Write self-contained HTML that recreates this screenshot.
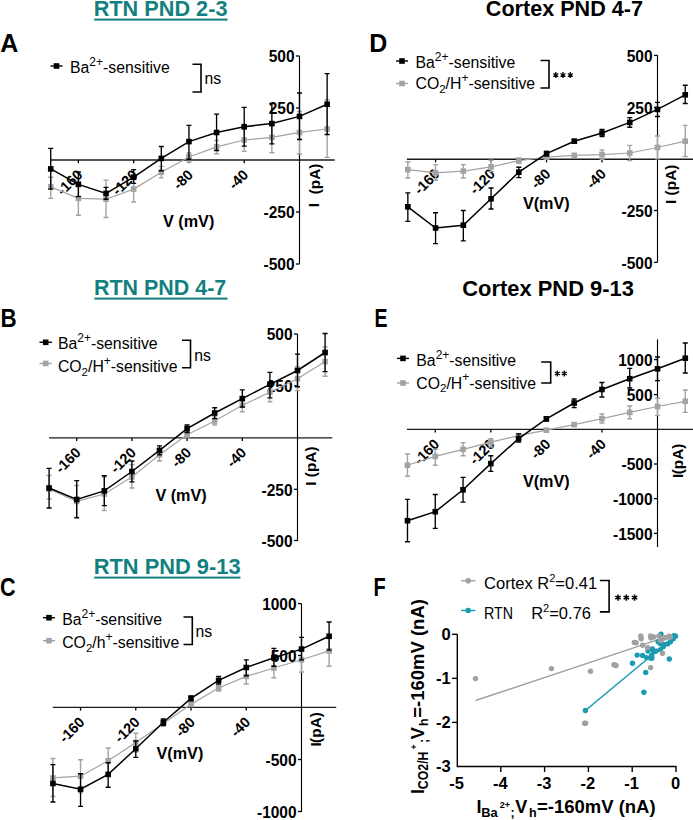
<!DOCTYPE html>
<html><head><meta charset="utf-8"><style>
html,body{margin:0;padding:0;background:#fff;}
svg{display:block;font-family:"Liberation Sans", sans-serif;}
</style></head><body>
<svg width="693" height="820" viewBox="0 0 693 820">
<rect width="693" height="820" fill="#fff"/>
<text x="93.7" y="16.3" font-size="21.3" font-weight="bold" text-anchor="start" fill="#127f80" textLength="133.8" lengthAdjust="spacingAndGlyphs">RTN PND 2-3</text>
<rect x="94.2" y="18.6" width="133.3" height="2" fill="#127f80"/>
<text x="0.3" y="51.5" font-size="25" font-weight="bold" text-anchor="start" fill="#000" >A</text>
<path d="M50.5,66H62.5" stroke="#000" stroke-width="1.4"/>
<rect x="53.70" y="63.20" width="5.6" height="5.6" fill="#000"/>
<text x="70" y="73.3" font-size="15.8">Ba<tspan font-size="12" dy="-7.3">2+</tspan><tspan dy="7.3">-sensitive</tspan></text>
<path d="M192.5,64.2H201V92H192.5" stroke="#000" stroke-width="1.6" fill="none"/>
<text x="204.5" y="83.5" font-size="15.8" text-anchor="start" fill="#000" >ns</text>
<path d="M51,160H334.7" stroke="#1a1a1a" stroke-width="1.4" fill="none"/>
<path d="M299.5,56V264" stroke="#000" stroke-width="1.15" fill="none"/>
<path d="M296.0,56H299.5" stroke="#000" stroke-width="1.3"/>
<path d="M296.0,108H299.5" stroke="#000" stroke-width="1.3"/>
<path d="M296.0,212H299.5" stroke="#000" stroke-width="1.3"/>
<path d="M296.0,264H299.5" stroke="#000" stroke-width="1.3"/>
<path d="M78.38,160V163.20" stroke="#000" stroke-width="1.3"/>
<path d="M133.66,160V163.20" stroke="#000" stroke-width="1.3"/>
<path d="M188.94,160V163.20" stroke="#000" stroke-width="1.3"/>
<path d="M244.22,160V163.20" stroke="#000" stroke-width="1.3"/>
<text x="268.75" y="62.4" font-size="16.3" font-weight="bold" textLength="25.85" lengthAdjust="spacingAndGlyphs">500</text>
<text x="268.75" y="114.4" font-size="16.3" font-weight="bold" textLength="25.85" lengthAdjust="spacingAndGlyphs">250</text>
<text x="263.58" y="218.4" font-size="16.3" font-weight="bold" textLength="31.02" lengthAdjust="spacingAndGlyphs">-250</text>
<text x="263.58" y="270.4" font-size="16.3" font-weight="bold" textLength="31.02" lengthAdjust="spacingAndGlyphs">-500</text>
<text x="83.38" y="175.7" font-size="14.5" font-weight="bold" text-anchor="end" transform="rotate(-45 83.38 175.7)">-160</text>
<text x="138.66" y="175.7" font-size="14.5" font-weight="bold" text-anchor="end" transform="rotate(-45 138.66 175.7)">-120</text>
<text x="193.94" y="175.7" font-size="14.5" font-weight="bold" text-anchor="end" transform="rotate(-45 193.94 175.7)">-80</text>
<text x="249.22" y="175.7" font-size="14.5" font-weight="bold" text-anchor="end" transform="rotate(-45 249.22 175.7)">-40</text>
<text x="163" y="226.8" font-size="16.2" font-weight="bold" text-anchor="start" fill="#000" >V (mV)</text>
<text x="319.5" y="207.2" font-size="15.4" font-weight="bold" transform="rotate(-90 319.5 207.2)">I</text>
<text x="319.5" y="163.5" font-size="15.4" font-weight="bold" text-anchor="end" transform="rotate(-90 319.5 163.5)">(pA)</text>
<path d="M50.74,177.20V198.40M48.24,177.20H53.24M48.24,198.40H53.24" stroke="#a3a3a3" stroke-width="1.4" fill="none"/>
<path d="M78.38,181.50V215.30M75.88,181.50H80.88M75.88,215.30H80.88" stroke="#a3a3a3" stroke-width="1.4" fill="none"/>
<path d="M106.02,180.10V217.50M103.52,180.10H108.52M103.52,217.50H108.52" stroke="#a3a3a3" stroke-width="1.4" fill="none"/>
<path d="M133.66,176.50V202.00M131.16,176.50H136.16M131.16,202.00H136.16" stroke="#a3a3a3" stroke-width="1.4" fill="none"/>
<path d="M161.30,166.40V177.90M158.80,166.40H163.80M158.80,177.90H163.80" stroke="#a3a3a3" stroke-width="1.4" fill="none"/>
<path d="M188.94,153.00V162.00M186.44,153.00H191.44M186.44,162.00H191.44" stroke="#a3a3a3" stroke-width="1.4" fill="none"/>
<path d="M216.58,140.40V153.70M214.08,140.40H219.08M214.08,153.70H219.08" stroke="#a3a3a3" stroke-width="1.4" fill="none"/>
<path d="M244.22,129.00V151.40M241.72,129.00H246.72M241.72,151.40H246.72" stroke="#a3a3a3" stroke-width="1.4" fill="none"/>
<path d="M271.86,122.00V152.70M269.36,122.00H274.36M269.36,152.70H274.36" stroke="#a3a3a3" stroke-width="1.4" fill="none"/>
<path d="M299.50,111.50V154.00M297.00,111.50H302.00M297.00,154.00H302.00" stroke="#a3a3a3" stroke-width="1.4" fill="none"/>
<path d="M327.14,99.70V157.40M324.64,99.70H329.64M324.64,157.40H329.64" stroke="#a3a3a3" stroke-width="1.4" fill="none"/>
<path d="M50.74,186.90 L78.38,198.40 L106.02,199.20 L133.66,189.10 L161.30,172.20 L188.94,157.00 L216.58,146.90 L244.22,140.00 L271.86,137.30 L299.50,132.40 L327.14,129.00" stroke="#a3a3a3" stroke-width="1.2" fill="none"/>
<rect x="47.94" y="184.10" width="5.6" height="5.6" fill="#a3a3a3"/>
<rect x="75.58" y="195.60" width="5.6" height="5.6" fill="#a3a3a3"/>
<rect x="103.22" y="196.40" width="5.6" height="5.6" fill="#a3a3a3"/>
<rect x="130.86" y="186.30" width="5.6" height="5.6" fill="#a3a3a3"/>
<rect x="158.50" y="169.40" width="5.6" height="5.6" fill="#a3a3a3"/>
<rect x="186.14" y="154.20" width="5.6" height="5.6" fill="#a3a3a3"/>
<rect x="213.78" y="144.10" width="5.6" height="5.6" fill="#a3a3a3"/>
<rect x="241.42" y="137.20" width="5.6" height="5.6" fill="#a3a3a3"/>
<rect x="269.06" y="134.50" width="5.6" height="5.6" fill="#a3a3a3"/>
<rect x="296.70" y="129.60" width="5.6" height="5.6" fill="#a3a3a3"/>
<rect x="324.34" y="126.20" width="5.6" height="5.6" fill="#a3a3a3"/>
<path d="M50.74,148.40V189.10M48.24,148.40H53.24M48.24,189.10H53.24" stroke="#000" stroke-width="1.35" fill="none"/>
<path d="M78.38,172.00V196.60M75.88,172.00H80.88M75.88,196.60H80.88" stroke="#000" stroke-width="1.35" fill="none"/>
<path d="M106.02,187.30V199.20M103.52,187.30H108.52M103.52,199.20H108.52" stroke="#000" stroke-width="1.35" fill="none"/>
<path d="M133.66,169.60V183.30M131.16,169.60H136.16M131.16,183.30H136.16" stroke="#000" stroke-width="1.35" fill="none"/>
<path d="M161.30,146.50V170.70M158.80,146.50H163.80M158.80,170.70H163.80" stroke="#000" stroke-width="1.35" fill="none"/>
<path d="M188.94,125.30V159.20M186.44,125.30H191.44M186.44,159.20H191.44" stroke="#000" stroke-width="1.35" fill="none"/>
<path d="M216.58,114.10V150.50M214.08,114.10H219.08M214.08,150.50H219.08" stroke="#000" stroke-width="1.35" fill="none"/>
<path d="M244.22,107.30V146.10M241.72,107.30H246.72M241.72,146.10H246.72" stroke="#000" stroke-width="1.35" fill="none"/>
<path d="M271.86,103.50V143.80M269.36,103.50H274.36M269.36,143.80H274.36" stroke="#000" stroke-width="1.35" fill="none"/>
<path d="M299.50,93.00V139.50M297.00,93.00H302.00M297.00,139.50H302.00" stroke="#000" stroke-width="1.35" fill="none"/>
<path d="M327.14,73.60V134.50M324.64,73.60H329.64M324.64,134.50H329.64" stroke="#000" stroke-width="1.35" fill="none"/>
<path d="M50.74,168.90 L78.38,184.40 L106.02,193.40 L133.66,177.20 L161.30,158.40 L188.94,141.60 L216.58,132.50 L244.22,126.70 L271.86,123.60 L299.50,116.40 L327.14,104.20" stroke="#000" stroke-width="1.5" fill="none"/>
<rect x="47.94" y="166.10" width="5.6" height="5.6" fill="#000"/>
<rect x="75.58" y="181.60" width="5.6" height="5.6" fill="#000"/>
<rect x="103.22" y="190.60" width="5.6" height="5.6" fill="#000"/>
<rect x="130.86" y="174.40" width="5.6" height="5.6" fill="#000"/>
<rect x="158.50" y="155.60" width="5.6" height="5.6" fill="#000"/>
<rect x="186.14" y="138.80" width="5.6" height="5.6" fill="#000"/>
<rect x="213.78" y="129.70" width="5.6" height="5.6" fill="#000"/>
<rect x="241.42" y="123.90" width="5.6" height="5.6" fill="#000"/>
<rect x="269.06" y="120.80" width="5.6" height="5.6" fill="#000"/>
<rect x="296.70" y="113.60" width="5.6" height="5.6" fill="#000"/>
<rect x="324.34" y="101.40" width="5.6" height="5.6" fill="#000"/>
<text x="93.9" y="295.4" font-size="21.3" font-weight="bold" text-anchor="start" fill="#127f80" textLength="132.4" lengthAdjust="spacingAndGlyphs">RTN PND 4-7</text>
<rect x="94.4" y="297.6" width="133.1" height="2" fill="#127f80"/>
<text x="0.4" y="326.5" font-size="25" font-weight="bold" text-anchor="start" fill="#000" textLength="16.2" lengthAdjust="spacingAndGlyphs">B</text>
<path d="M39.5,342.3H51.9" stroke="#000" stroke-width="1.4"/>
<rect x="42.90" y="339.50" width="5.6" height="5.6" fill="#000"/>
<text x="57.9" y="349.2" font-size="15.8">Ba<tspan font-size="12" dy="-7.3">2+</tspan><tspan dy="7.3">-sensitive</tspan></text>
<path d="M39.5,363.5H51.9" stroke="#a3a3a3" stroke-width="1.4"/>
<rect x="42.90" y="360.70" width="5.6" height="5.6" fill="#a3a3a3"/>
<text x="57.9" y="372.2" font-size="15.8">CO<tspan font-size="11.5" dy="3.5">2</tspan><tspan dy="-3.5">/H</tspan><tspan font-size="12" dy="-7.3">+</tspan><tspan dy="7.3">-sensitive</tspan></text>
<path d="M182,340.2H190.5V367.8H182" stroke="#000" stroke-width="1.6" fill="none"/>
<text x="194.3" y="360.5" font-size="15.8" text-anchor="start" fill="#000" >ns</text>
<path d="M49,437.9H332.3" stroke="#1a1a1a" stroke-width="1.4" fill="none"/>
<path d="M297.5,334V541" stroke="#000" stroke-width="1.15" fill="none"/>
<path d="M294.0,334H297.5" stroke="#000" stroke-width="1.3"/>
<path d="M294.0,385.9H297.5" stroke="#000" stroke-width="1.3"/>
<path d="M294.0,489.3H297.5" stroke="#000" stroke-width="1.3"/>
<path d="M294.0,540.5H297.5" stroke="#000" stroke-width="1.3"/>
<path d="M76.70,437.9V441.10" stroke="#000" stroke-width="1.3"/>
<path d="M131.90,437.9V441.10" stroke="#000" stroke-width="1.3"/>
<path d="M187.10,437.9V441.10" stroke="#000" stroke-width="1.3"/>
<path d="M242.30,437.9V441.10" stroke="#000" stroke-width="1.3"/>
<text x="266.75" y="340.4" font-size="16.3" font-weight="bold" textLength="25.85" lengthAdjust="spacingAndGlyphs">500</text>
<text x="266.75" y="392.29" font-size="16.3" font-weight="bold" textLength="25.85" lengthAdjust="spacingAndGlyphs">250</text>
<text x="261.58" y="495.7" font-size="16.3" font-weight="bold" textLength="31.02" lengthAdjust="spacingAndGlyphs">-250</text>
<text x="261.58" y="546.9" font-size="16.3" font-weight="bold" textLength="31.02" lengthAdjust="spacingAndGlyphs">-500</text>
<text x="81.7" y="453.6" font-size="14.5" font-weight="bold" text-anchor="end" transform="rotate(-45 81.7 453.6)">-160</text>
<text x="136.9" y="453.6" font-size="14.5" font-weight="bold" text-anchor="end" transform="rotate(-45 136.9 453.6)">-120</text>
<text x="192.1" y="453.6" font-size="14.5" font-weight="bold" text-anchor="end" transform="rotate(-45 192.1 453.6)">-80</text>
<text x="247.3" y="453.6" font-size="14.5" font-weight="bold" text-anchor="end" transform="rotate(-45 247.3 453.6)">-40</text>
<text x="155.4" y="501.2" font-size="16.2" font-weight="bold" text-anchor="start" fill="#000" >V (mV)</text>
<text x="315.9" y="485.8" font-size="15.4" font-weight="bold" transform="rotate(-90 315.9 485.8)">I</text>
<text x="315.9" y="446.4" font-size="15.4" font-weight="bold" text-anchor="end" transform="rotate(-90 315.9 446.4)">(pA)</text>
<path d="M49.10,475.50V499.00M46.60,475.50H51.60M46.60,499.00H51.60" stroke="#a3a3a3" stroke-width="1.4" fill="none"/>
<path d="M76.70,485.50V517.40M74.20,485.50H79.20M74.20,517.40H79.20" stroke="#a3a3a3" stroke-width="1.4" fill="none"/>
<path d="M104.30,477.00V510.50M101.80,477.00H106.80M101.80,510.50H106.80" stroke="#a3a3a3" stroke-width="1.4" fill="none"/>
<path d="M131.90,464.60V488.00M129.40,464.60H134.40M129.40,488.00H134.40" stroke="#a3a3a3" stroke-width="1.4" fill="none"/>
<path d="M159.50,450.00V461.00M157.00,450.00H162.00M157.00,461.00H162.00" stroke="#a3a3a3" stroke-width="1.4" fill="none"/>
<path d="M187.10,432.00V437.50M184.60,432.00H189.60M184.60,437.50H189.60" stroke="#a3a3a3" stroke-width="1.4" fill="none"/>
<path d="M214.70,417.00V425.00M212.20,417.00H217.20M212.20,425.00H217.20" stroke="#a3a3a3" stroke-width="1.4" fill="none"/>
<path d="M242.30,400.00V411.70M239.80,400.00H244.80M239.80,411.70H244.80" stroke="#a3a3a3" stroke-width="1.4" fill="none"/>
<path d="M269.90,385.00V401.70M267.40,385.00H272.40M267.40,401.70H272.40" stroke="#a3a3a3" stroke-width="1.4" fill="none"/>
<path d="M297.50,366.80V390.60M295.00,366.80H300.00M295.00,390.60H300.00" stroke="#a3a3a3" stroke-width="1.4" fill="none"/>
<path d="M325.10,347.00V376.30M322.60,347.00H327.60M322.60,376.30H327.60" stroke="#a3a3a3" stroke-width="1.4" fill="none"/>
<path d="M49.10,489.00 L76.70,501.40 L104.30,494.00 L131.90,477.00 L159.50,454.80 L187.10,434.70 L214.70,421.00 L242.30,405.30 L269.90,392.20 L297.50,378.70 L325.10,361.60" stroke="#a3a3a3" stroke-width="1.2" fill="none"/>
<rect x="46.30" y="486.20" width="5.6" height="5.6" fill="#a3a3a3"/>
<rect x="73.90" y="498.60" width="5.6" height="5.6" fill="#a3a3a3"/>
<rect x="101.50" y="491.20" width="5.6" height="5.6" fill="#a3a3a3"/>
<rect x="129.10" y="474.20" width="5.6" height="5.6" fill="#a3a3a3"/>
<rect x="156.70" y="452.00" width="5.6" height="5.6" fill="#a3a3a3"/>
<rect x="184.30" y="431.90" width="5.6" height="5.6" fill="#a3a3a3"/>
<rect x="211.90" y="418.20" width="5.6" height="5.6" fill="#a3a3a3"/>
<rect x="239.50" y="402.50" width="5.6" height="5.6" fill="#a3a3a3"/>
<rect x="267.10" y="389.40" width="5.6" height="5.6" fill="#a3a3a3"/>
<rect x="294.70" y="375.90" width="5.6" height="5.6" fill="#a3a3a3"/>
<rect x="322.30" y="358.80" width="5.6" height="5.6" fill="#a3a3a3"/>
<path d="M49.10,468.30V508.00M46.60,468.30H51.60M46.60,508.00H51.60" stroke="#000" stroke-width="1.35" fill="none"/>
<path d="M76.70,480.60V517.90M74.20,480.60H79.20M74.20,517.90H79.20" stroke="#000" stroke-width="1.35" fill="none"/>
<path d="M104.30,475.70V505.60M101.80,475.70H106.80M101.80,505.60H106.80" stroke="#000" stroke-width="1.35" fill="none"/>
<path d="M131.90,461.00V481.80M129.40,461.00H134.40M129.40,481.80H134.40" stroke="#000" stroke-width="1.35" fill="none"/>
<path d="M159.50,445.80V454.80M157.00,445.80H162.00M157.00,454.80H162.00" stroke="#000" stroke-width="1.35" fill="none"/>
<path d="M187.10,425.00V432.50M184.60,425.00H189.60M184.60,432.50H189.60" stroke="#000" stroke-width="1.35" fill="none"/>
<path d="M214.70,407.70V418.60M212.20,407.70H217.20M212.20,418.60H217.20" stroke="#000" stroke-width="1.35" fill="none"/>
<path d="M242.30,389.80V407.00M239.80,389.80H244.80M239.80,407.00H244.80" stroke="#000" stroke-width="1.35" fill="none"/>
<path d="M269.90,372.40V397.80M267.40,372.40H272.40M267.40,397.80H272.40" stroke="#000" stroke-width="1.35" fill="none"/>
<path d="M297.50,354.10V386.70M295.00,354.10H300.00M295.00,386.70H300.00" stroke="#000" stroke-width="1.35" fill="none"/>
<path d="M325.10,333.50V371.60M322.60,333.50H327.60M322.60,371.60H327.60" stroke="#000" stroke-width="1.35" fill="none"/>
<path d="M49.10,488.00 L76.70,499.50 L104.30,490.90 L131.90,471.50 L159.50,450.40 L187.10,428.70 L214.70,413.00 L242.30,398.60 L269.90,384.30 L297.50,370.50 L325.10,352.50" stroke="#000" stroke-width="1.5" fill="none"/>
<rect x="46.30" y="485.20" width="5.6" height="5.6" fill="#000"/>
<rect x="73.90" y="496.70" width="5.6" height="5.6" fill="#000"/>
<rect x="101.50" y="488.10" width="5.6" height="5.6" fill="#000"/>
<rect x="129.10" y="468.70" width="5.6" height="5.6" fill="#000"/>
<rect x="156.70" y="447.60" width="5.6" height="5.6" fill="#000"/>
<rect x="184.30" y="425.90" width="5.6" height="5.6" fill="#000"/>
<rect x="211.90" y="410.20" width="5.6" height="5.6" fill="#000"/>
<rect x="239.50" y="395.80" width="5.6" height="5.6" fill="#000"/>
<rect x="267.10" y="381.50" width="5.6" height="5.6" fill="#000"/>
<rect x="294.70" y="367.70" width="5.6" height="5.6" fill="#000"/>
<rect x="322.30" y="349.70" width="5.6" height="5.6" fill="#000"/>
<text x="93.7" y="573.9" font-size="21.3" font-weight="bold" text-anchor="start" fill="#127f80" textLength="146.9" lengthAdjust="spacingAndGlyphs">RTN PND 9-13</text>
<rect x="94.2" y="576.6" width="146.3" height="2" fill="#127f80"/>
<text x="0" y="595.5" font-size="25" font-weight="bold" text-anchor="start" fill="#000" textLength="15.6" lengthAdjust="spacingAndGlyphs">C</text>
<path d="M43,617.7H55" stroke="#000" stroke-width="1.4"/>
<rect x="46.20" y="614.90" width="5.6" height="5.6" fill="#000"/>
<text x="62.2" y="625.4" font-size="15.8">Ba<tspan font-size="12" dy="-7.3">2+</tspan><tspan dy="7.3">-sensitive</tspan></text>
<path d="M43,640.7H55" stroke="#a3a3a3" stroke-width="1.4"/>
<rect x="46.20" y="637.90" width="5.6" height="5.6" fill="#a3a3a3"/>
<text x="62.2" y="648.4" font-size="15.8">CO<tspan font-size="11.5" dy="3.5">2</tspan><tspan dy="-3.5">/h</tspan><tspan font-size="12" dy="-7.3">+</tspan><tspan dy="7.3">-sensitive</tspan></text>
<path d="M183.5,617H192.3V644.5H183.5" stroke="#000" stroke-width="1.6" fill="none"/>
<text x="195.5" y="636.5" font-size="15.8" text-anchor="start" fill="#000" >ns</text>
<path d="M52.8,707.4H336.2" stroke="#1a1a1a" stroke-width="1.4" fill="none"/>
<path d="M301.5,603.6V811.8" stroke="#000" stroke-width="1.15" fill="none"/>
<path d="M298.0,603.6H301.5" stroke="#000" stroke-width="1.3"/>
<path d="M298.0,655.5H301.5" stroke="#000" stroke-width="1.3"/>
<path d="M298.0,759.5H301.5" stroke="#000" stroke-width="1.3"/>
<path d="M298.0,811.5H301.5" stroke="#000" stroke-width="1.3"/>
<path d="M80.54,707.4V710.60" stroke="#000" stroke-width="1.3"/>
<path d="M135.78,707.4V710.60" stroke="#000" stroke-width="1.3"/>
<path d="M191.02,707.4V710.60" stroke="#000" stroke-width="1.3"/>
<path d="M246.26,707.4V710.60" stroke="#000" stroke-width="1.3"/>
<text x="262.13" y="610.0" font-size="16.3" font-weight="bold" textLength="34.47" lengthAdjust="spacingAndGlyphs">1000</text>
<text x="270.75" y="661.9" font-size="16.3" font-weight="bold" textLength="25.85" lengthAdjust="spacingAndGlyphs">500</text>
<text x="265.58" y="765.9" font-size="16.3" font-weight="bold" textLength="31.02" lengthAdjust="spacingAndGlyphs">-500</text>
<text x="256.97" y="817.9" font-size="16.3" font-weight="bold" textLength="39.63" lengthAdjust="spacingAndGlyphs">-1000</text>
<text x="85.54" y="723.1" font-size="14.5" font-weight="bold" text-anchor="end" transform="rotate(-45 85.54 723.1)">-160</text>
<text x="140.78" y="723.1" font-size="14.5" font-weight="bold" text-anchor="end" transform="rotate(-45 140.78 723.1)">-120</text>
<text x="196.02" y="723.1" font-size="14.5" font-weight="bold" text-anchor="end" transform="rotate(-45 196.02 723.1)">-80</text>
<text x="251.26" y="723.1" font-size="14.5" font-weight="bold" text-anchor="end" transform="rotate(-45 251.26 723.1)">-40</text>
<text x="156.5" y="758.6" font-size="16.2" font-weight="bold" text-anchor="start" fill="#000" >V(mV)</text>
<text x="320.9" y="746.6" font-size="15.4" font-weight="bold" transform="rotate(-90 320.9 746.6)">I</text>
<text x="320.9" y="712.1" font-size="15.4" font-weight="bold" text-anchor="end" transform="rotate(-90 320.9 712.1)">(pA)</text>
<path d="M52.92,758.50V796.50M50.42,758.50H55.42M50.42,796.50H55.42" stroke="#a3a3a3" stroke-width="1.4" fill="none"/>
<path d="M80.54,759.70V792.70M78.04,759.70H83.04M78.04,792.70H83.04" stroke="#a3a3a3" stroke-width="1.4" fill="none"/>
<path d="M108.16,748.00V773.70M105.66,748.00H110.66M105.66,773.70H110.66" stroke="#a3a3a3" stroke-width="1.4" fill="none"/>
<path d="M135.78,733.20V752.00M133.28,733.20H138.28M133.28,752.00H138.28" stroke="#a3a3a3" stroke-width="1.4" fill="none"/>
<path d="M163.40,720.50V726.30M160.90,720.50H165.90M160.90,726.30H165.90" stroke="#a3a3a3" stroke-width="1.4" fill="none"/>
<path d="M191.02,702.00V706.50M188.52,702.00H193.52M188.52,706.50H193.52" stroke="#a3a3a3" stroke-width="1.4" fill="none"/>
<path d="M218.64,685.00V691.00M216.14,685.00H221.14M216.14,691.00H221.14" stroke="#a3a3a3" stroke-width="1.4" fill="none"/>
<path d="M246.26,668.80V684.00M243.76,668.80H248.76M243.76,684.00H248.76" stroke="#a3a3a3" stroke-width="1.4" fill="none"/>
<path d="M273.88,658.60V677.70M271.38,658.60H276.38M271.38,677.70H276.38" stroke="#a3a3a3" stroke-width="1.4" fill="none"/>
<path d="M301.50,649.00V672.00M299.00,649.00H304.00M299.00,672.00H304.00" stroke="#a3a3a3" stroke-width="1.4" fill="none"/>
<path d="M329.12,638.00V666.20M326.62,638.00H331.62M326.62,666.20H331.62" stroke="#a3a3a3" stroke-width="1.4" fill="none"/>
<path d="M52.92,777.90 L80.54,776.20 L108.16,760.70 L135.78,742.60 L163.40,723.40 L191.02,704.30 L218.64,688.00 L246.26,676.40 L273.88,668.00 L301.50,659.80 L329.12,650.90" stroke="#a3a3a3" stroke-width="1.2" fill="none"/>
<rect x="50.12" y="775.10" width="5.6" height="5.6" fill="#a3a3a3"/>
<rect x="77.74" y="773.40" width="5.6" height="5.6" fill="#a3a3a3"/>
<rect x="105.36" y="757.90" width="5.6" height="5.6" fill="#a3a3a3"/>
<rect x="132.98" y="739.80" width="5.6" height="5.6" fill="#a3a3a3"/>
<rect x="160.60" y="720.60" width="5.6" height="5.6" fill="#a3a3a3"/>
<rect x="188.22" y="701.50" width="5.6" height="5.6" fill="#a3a3a3"/>
<rect x="215.84" y="685.20" width="5.6" height="5.6" fill="#a3a3a3"/>
<rect x="243.46" y="673.60" width="5.6" height="5.6" fill="#a3a3a3"/>
<rect x="271.08" y="665.20" width="5.6" height="5.6" fill="#a3a3a3"/>
<rect x="298.70" y="657.00" width="5.6" height="5.6" fill="#a3a3a3"/>
<rect x="326.32" y="648.10" width="5.6" height="5.6" fill="#a3a3a3"/>
<path d="M52.92,764.60V802.00M50.42,764.60H55.42M50.42,802.00H55.42" stroke="#000" stroke-width="1.35" fill="none"/>
<path d="M80.54,773.70V806.30M78.04,773.70H83.04M78.04,806.30H83.04" stroke="#000" stroke-width="1.35" fill="none"/>
<path d="M108.16,762.70V787.20M105.66,762.70H110.66M105.66,787.20H110.66" stroke="#000" stroke-width="1.35" fill="none"/>
<path d="M135.78,741.00V757.30M133.28,741.00H138.28M133.28,757.30H138.28" stroke="#000" stroke-width="1.35" fill="none"/>
<path d="M163.40,719.00V725.40M160.90,719.00H165.90M160.90,725.40H165.90" stroke="#000" stroke-width="1.35" fill="none"/>
<path d="M191.02,696.00V700.80M188.52,696.00H193.52M188.52,700.80H193.52" stroke="#000" stroke-width="1.35" fill="none"/>
<path d="M218.64,676.40V684.00M216.14,676.40H221.14M216.14,684.00H221.14" stroke="#000" stroke-width="1.35" fill="none"/>
<path d="M246.26,659.80V675.70M243.76,659.80H248.76M243.76,675.70H248.76" stroke="#000" stroke-width="1.35" fill="none"/>
<path d="M273.88,648.30V666.20M271.38,648.30H276.38M271.38,666.20H276.38" stroke="#000" stroke-width="1.35" fill="none"/>
<path d="M301.50,637.40V659.80M299.00,637.40H304.00M299.00,659.80H304.00" stroke="#000" stroke-width="1.35" fill="none"/>
<path d="M329.12,622.00V650.10M326.62,622.00H331.62M326.62,650.10H331.62" stroke="#000" stroke-width="1.35" fill="none"/>
<path d="M52.92,783.50 L80.54,789.20 L108.16,774.40 L135.78,748.70 L163.40,722.20 L191.02,698.40 L218.64,680.30 L246.26,667.50 L273.88,657.80 L301.50,649.10 L329.12,636.30" stroke="#000" stroke-width="1.5" fill="none"/>
<rect x="50.12" y="780.70" width="5.6" height="5.6" fill="#000"/>
<rect x="77.74" y="786.40" width="5.6" height="5.6" fill="#000"/>
<rect x="105.36" y="771.60" width="5.6" height="5.6" fill="#000"/>
<rect x="132.98" y="745.90" width="5.6" height="5.6" fill="#000"/>
<rect x="160.60" y="719.40" width="5.6" height="5.6" fill="#000"/>
<rect x="188.22" y="695.60" width="5.6" height="5.6" fill="#000"/>
<rect x="215.84" y="677.50" width="5.6" height="5.6" fill="#000"/>
<rect x="243.46" y="664.70" width="5.6" height="5.6" fill="#000"/>
<rect x="271.08" y="655.00" width="5.6" height="5.6" fill="#000"/>
<rect x="298.70" y="646.30" width="5.6" height="5.6" fill="#000"/>
<rect x="326.32" y="633.50" width="5.6" height="5.6" fill="#000"/>
<text x="485.8" y="16.1" font-size="21.3" font-weight="bold" text-anchor="start" fill="#000" textLength="157.2" lengthAdjust="spacingAndGlyphs">Cortex PND 4-7</text>
<text x="369.3" y="51.6" font-size="25" font-weight="bold" text-anchor="start" fill="#000" >D</text>
<path d="M396,61H408" stroke="#000" stroke-width="1.4"/>
<rect x="399.20" y="58.20" width="5.6" height="5.6" fill="#000"/>
<text x="415.5" y="67.8" font-size="15.8">Ba<tspan font-size="12" dy="-7.3">2+</tspan><tspan dy="7.3">-sensitive</tspan></text>
<path d="M396,83.5H408" stroke="#a3a3a3" stroke-width="1.4"/>
<rect x="399.20" y="80.70" width="5.6" height="5.6" fill="#a3a3a3"/>
<text x="415.5" y="89.3" font-size="15.8">CO<tspan font-size="11.5" dy="3.5">2</tspan><tspan dy="-3.5">/H</tspan><tspan font-size="12" dy="-7.3">+</tspan><tspan dy="7.3">-sensitive</tspan></text>
<path d="M540.5,60.5H549V88H540.5" stroke="#000" stroke-width="1.6" fill="none"/>
<path d="M555.80,72.10V77.90M553.29,73.55L558.31,76.45M553.29,76.45L558.31,73.55M563.00,72.10V77.90M560.49,73.55L565.51,76.45M560.49,76.45L565.51,73.55M570.30,72.10V77.90M567.79,73.55L572.81,76.45M567.79,76.45L572.81,73.55" stroke="#000" stroke-width="1.3" fill="none"/>
<path d="M406.9,159.2H693" stroke="#1a1a1a" stroke-width="1.4" fill="none"/>
<path d="M657.5,55V262.4" stroke="#000" stroke-width="1.15" fill="none"/>
<path d="M654.0,55.4H657.5" stroke="#000" stroke-width="1.3"/>
<path d="M654.0,107.5H657.5" stroke="#000" stroke-width="1.3"/>
<path d="M654.0,210.5H657.5" stroke="#000" stroke-width="1.3"/>
<path d="M654.0,262.4H657.5" stroke="#000" stroke-width="1.3"/>
<path d="M435.58,159.2V162.40" stroke="#000" stroke-width="1.3"/>
<path d="M491.06,159.2V162.40" stroke="#000" stroke-width="1.3"/>
<path d="M546.54,159.2V162.40" stroke="#000" stroke-width="1.3"/>
<path d="M602.02,159.2V162.40" stroke="#000" stroke-width="1.3"/>
<text x="626.75" y="61.8" font-size="16.3" font-weight="bold" textLength="25.85" lengthAdjust="spacingAndGlyphs">500</text>
<text x="626.75" y="113.9" font-size="16.3" font-weight="bold" textLength="25.85" lengthAdjust="spacingAndGlyphs">250</text>
<text x="621.58" y="216.9" font-size="16.3" font-weight="bold" textLength="31.02" lengthAdjust="spacingAndGlyphs">-250</text>
<text x="621.58" y="268.79" font-size="16.3" font-weight="bold" textLength="31.02" lengthAdjust="spacingAndGlyphs">-500</text>
<text x="440.58" y="174.9" font-size="14.5" font-weight="bold" text-anchor="end" transform="rotate(-45 440.58 174.9)">-160</text>
<text x="496.06" y="174.9" font-size="14.5" font-weight="bold" text-anchor="end" transform="rotate(-45 496.06 174.9)">-120</text>
<text x="551.54" y="174.9" font-size="14.5" font-weight="bold" text-anchor="end" transform="rotate(-45 551.54 174.9)">-80</text>
<text x="607.02" y="174.9" font-size="14.5" font-weight="bold" text-anchor="end" transform="rotate(-45 607.02 174.9)">-40</text>
<text x="522.9" y="209.2" font-size="16.2" font-weight="bold" text-anchor="start" fill="#000" >V(mV)</text>
<text x="675.8" y="204.0" font-size="15.4" font-weight="bold" transform="rotate(-90 675.8 204.0)">I</text>
<text x="675.8" y="164.6" font-size="15.4" font-weight="bold" text-anchor="end" transform="rotate(-90 675.8 164.6)">(pA)</text>
<path d="M407.84,161.80V178.00M405.34,161.80H410.34M405.34,178.00H410.34" stroke="#a3a3a3" stroke-width="1.4" fill="none"/>
<path d="M435.58,164.60V180.20M433.08,164.60H438.08M433.08,180.20H438.08" stroke="#a3a3a3" stroke-width="1.4" fill="none"/>
<path d="M463.32,164.60V178.00M460.82,164.60H465.82M460.82,178.00H465.82" stroke="#a3a3a3" stroke-width="1.4" fill="none"/>
<path d="M491.06,160.30V171.50M488.56,160.30H493.56M488.56,171.50H493.56" stroke="#a3a3a3" stroke-width="1.4" fill="none"/>
<path d="M518.80,158.00V163.40M516.30,158.00H521.30M516.30,163.40H521.30" stroke="#a3a3a3" stroke-width="1.4" fill="none"/>
<path d="M546.54,156.00V158.40M544.04,156.00H549.04M544.04,158.40H549.04" stroke="#a3a3a3" stroke-width="1.4" fill="none"/>
<path d="M574.28,154.00V156.60M571.78,154.00H576.78M571.78,156.60H576.78" stroke="#a3a3a3" stroke-width="1.4" fill="none"/>
<path d="M602.02,149.90V159.30M599.52,149.90H604.52M599.52,159.30H604.52" stroke="#a3a3a3" stroke-width="1.4" fill="none"/>
<path d="M629.76,145.40V160.60M627.26,145.40H632.26M627.26,160.60H632.26" stroke="#a3a3a3" stroke-width="1.4" fill="none"/>
<path d="M657.50,136.00V158.80M655.00,136.00H660.00M655.00,158.80H660.00" stroke="#a3a3a3" stroke-width="1.4" fill="none"/>
<path d="M685.24,125.40V156.50M682.74,125.40H687.74M682.74,156.50H687.74" stroke="#a3a3a3" stroke-width="1.4" fill="none"/>
<path d="M407.84,169.60 L435.58,172.90 L463.32,171.10 L491.06,166.80 L518.80,160.70 L546.54,157.20 L574.28,155.30 L602.02,154.60 L629.76,153.00 L657.50,147.50 L685.24,141.20" stroke="#a3a3a3" stroke-width="1.2" fill="none"/>
<rect x="405.04" y="166.80" width="5.6" height="5.6" fill="#a3a3a3"/>
<rect x="432.78" y="170.10" width="5.6" height="5.6" fill="#a3a3a3"/>
<rect x="460.52" y="168.30" width="5.6" height="5.6" fill="#a3a3a3"/>
<rect x="488.26" y="164.00" width="5.6" height="5.6" fill="#a3a3a3"/>
<rect x="516.00" y="157.90" width="5.6" height="5.6" fill="#a3a3a3"/>
<rect x="543.74" y="154.40" width="5.6" height="5.6" fill="#a3a3a3"/>
<rect x="571.48" y="152.50" width="5.6" height="5.6" fill="#a3a3a3"/>
<rect x="599.22" y="151.80" width="5.6" height="5.6" fill="#a3a3a3"/>
<rect x="626.96" y="150.20" width="5.6" height="5.6" fill="#a3a3a3"/>
<rect x="654.70" y="144.70" width="5.6" height="5.6" fill="#a3a3a3"/>
<rect x="682.44" y="138.40" width="5.6" height="5.6" fill="#a3a3a3"/>
<path d="M407.84,192.80V221.30M405.34,192.80H410.34M405.34,221.30H410.34" stroke="#000" stroke-width="1.35" fill="none"/>
<path d="M435.58,212.70V243.60M433.08,212.70H438.08M433.08,243.60H438.08" stroke="#000" stroke-width="1.35" fill="none"/>
<path d="M463.32,210.50V240.80M460.82,210.50H465.82M460.82,240.80H465.82" stroke="#000" stroke-width="1.35" fill="none"/>
<path d="M491.06,188.00V209.00M488.56,188.00H493.56M488.56,209.00H493.56" stroke="#000" stroke-width="1.35" fill="none"/>
<path d="M518.80,167.20V177.60M516.30,167.20H521.30M516.30,177.60H521.30" stroke="#000" stroke-width="1.35" fill="none"/>
<path d="M546.54,151.50V155.70M544.04,151.50H549.04M544.04,155.70H549.04" stroke="#000" stroke-width="1.35" fill="none"/>
<path d="M574.28,139.50V143.00M571.78,139.50H576.78M571.78,143.00H576.78" stroke="#000" stroke-width="1.35" fill="none"/>
<path d="M602.02,129.40V136.50M599.52,129.40H604.52M599.52,136.50H604.52" stroke="#000" stroke-width="1.35" fill="none"/>
<path d="M629.76,117.60V127.20M627.26,117.60H632.26M627.26,127.20H632.26" stroke="#000" stroke-width="1.35" fill="none"/>
<path d="M657.50,102.40V116.50M655.00,102.40H660.00M655.00,116.50H660.00" stroke="#000" stroke-width="1.35" fill="none"/>
<path d="M685.24,85.20V103.50M682.74,85.20H687.74M682.74,103.50H687.74" stroke="#000" stroke-width="1.35" fill="none"/>
<path d="M407.84,206.80 L435.58,228.00 L463.32,225.20 L491.06,198.80 L518.80,172.20 L546.54,153.60 L574.28,141.20 L602.02,133.00 L629.76,122.40 L657.50,109.40 L685.24,94.80" stroke="#000" stroke-width="1.5" fill="none"/>
<rect x="405.04" y="204.00" width="5.6" height="5.6" fill="#000"/>
<rect x="432.78" y="225.20" width="5.6" height="5.6" fill="#000"/>
<rect x="460.52" y="222.40" width="5.6" height="5.6" fill="#000"/>
<rect x="488.26" y="196.00" width="5.6" height="5.6" fill="#000"/>
<rect x="516.00" y="169.40" width="5.6" height="5.6" fill="#000"/>
<rect x="543.74" y="150.80" width="5.6" height="5.6" fill="#000"/>
<rect x="571.48" y="138.40" width="5.6" height="5.6" fill="#000"/>
<rect x="599.22" y="130.20" width="5.6" height="5.6" fill="#000"/>
<rect x="626.96" y="119.60" width="5.6" height="5.6" fill="#000"/>
<rect x="654.70" y="106.60" width="5.6" height="5.6" fill="#000"/>
<rect x="682.44" y="92.00" width="5.6" height="5.6" fill="#000"/>
<text x="462.3" y="295.8" font-size="21.3" font-weight="bold" text-anchor="start" fill="#000" textLength="171.6" lengthAdjust="spacingAndGlyphs">Cortex PND 9-13</text>
<text x="374.6" y="326.5" font-size="25" font-weight="bold" text-anchor="start" fill="#000" textLength="13" lengthAdjust="spacingAndGlyphs">E</text>
<path d="M397,358.4H409" stroke="#000" stroke-width="1.4"/>
<rect x="400.20" y="355.60" width="5.6" height="5.6" fill="#000"/>
<text x="416.3" y="365.8" font-size="15.8">Ba<tspan font-size="12" dy="-7.3">2+</tspan><tspan dy="7.3">-sensitive</tspan></text>
<path d="M397,383H409" stroke="#a3a3a3" stroke-width="1.4"/>
<rect x="400.20" y="380.20" width="5.6" height="5.6" fill="#a3a3a3"/>
<text x="416.3" y="388.6" font-size="15.8">CO<tspan font-size="11.5" dy="3.5">2</tspan><tspan dy="-3.5">/H</tspan><tspan font-size="12" dy="-7.3">+</tspan><tspan dy="7.3">-sensitive</tspan></text>
<path d="M541.2,362H550.7V383H541.2" stroke="#000" stroke-width="1.6" fill="none"/>
<path d="M557.30,370.60V376.40M554.79,372.05L559.81,374.95M554.79,374.95L559.81,372.05M564.30,370.60V376.40M561.79,372.05L566.81,374.95M561.79,374.95L566.81,372.05" stroke="#000" stroke-width="1.3" fill="none"/>
<path d="M406.9,429.4H693" stroke="#1a1a1a" stroke-width="1.4" fill="none"/>
<path d="M657.5,339.4V547" stroke="#000" stroke-width="1.15" fill="none"/>
<path d="M654.0,359.6H657.5" stroke="#000" stroke-width="1.3"/>
<path d="M654.0,394.6H657.5" stroke="#000" stroke-width="1.3"/>
<path d="M654.0,464H657.5" stroke="#000" stroke-width="1.3"/>
<path d="M654.0,498.6H657.5" stroke="#000" stroke-width="1.3"/>
<path d="M654.0,533.4H657.5" stroke="#000" stroke-width="1.3"/>
<path d="M435.26,429.4V432.60" stroke="#000" stroke-width="1.3"/>
<path d="M490.82,429.4V432.60" stroke="#000" stroke-width="1.3"/>
<path d="M546.38,429.4V432.60" stroke="#000" stroke-width="1.3"/>
<path d="M601.94,429.4V432.60" stroke="#000" stroke-width="1.3"/>
<text x="618.13" y="366.0" font-size="16.3" font-weight="bold" textLength="34.47" lengthAdjust="spacingAndGlyphs">1000</text>
<text x="626.75" y="401.0" font-size="16.3" font-weight="bold" textLength="25.85" lengthAdjust="spacingAndGlyphs">500</text>
<text x="621.58" y="470.4" font-size="16.3" font-weight="bold" textLength="31.02" lengthAdjust="spacingAndGlyphs">-500</text>
<text x="612.97" y="505.0" font-size="16.3" font-weight="bold" textLength="39.63" lengthAdjust="spacingAndGlyphs">-1000</text>
<text x="612.97" y="539.8" font-size="16.3" font-weight="bold" textLength="39.63" lengthAdjust="spacingAndGlyphs">-1500</text>
<text x="440.26" y="445.1" font-size="14.5" font-weight="bold" text-anchor="end" transform="rotate(-45 440.26 445.1)">-160</text>
<text x="495.82" y="445.1" font-size="14.5" font-weight="bold" text-anchor="end" transform="rotate(-45 495.82 445.1)">-120</text>
<text x="551.38" y="445.1" font-size="14.5" font-weight="bold" text-anchor="end" transform="rotate(-45 551.38 445.1)">-80</text>
<text x="606.94" y="445.1" font-size="14.5" font-weight="bold" text-anchor="end" transform="rotate(-45 606.94 445.1)">-40</text>
<text x="522.9" y="487.1" font-size="16.2" font-weight="bold" text-anchor="start" fill="#000" >V(mV)</text>
<text x="683.4" y="478.1" font-size="15.4" font-weight="bold" transform="rotate(-90 683.4 478.1)">I</text>
<text x="683.4" y="443.5" font-size="15.4" font-weight="bold" text-anchor="end" transform="rotate(-90 683.4 443.5)">(pA)</text>
<path d="M407.48,454.00V476.20M404.98,454.00H409.98M404.98,476.20H409.98" stroke="#a3a3a3" stroke-width="1.4" fill="none"/>
<path d="M435.26,449.30V465.20M432.76,449.30H437.76M432.76,465.20H437.76" stroke="#a3a3a3" stroke-width="1.4" fill="none"/>
<path d="M463.04,442.60V455.70M460.54,442.60H465.54M460.54,455.70H465.54" stroke="#a3a3a3" stroke-width="1.4" fill="none"/>
<path d="M490.82,438.60V447.00M488.32,438.60H493.32M488.32,447.00H493.32" stroke="#a3a3a3" stroke-width="1.4" fill="none"/>
<path d="M518.60,434.00V437.40M516.10,434.00H521.10M516.10,437.40H521.10" stroke="#a3a3a3" stroke-width="1.4" fill="none"/>
<path d="M546.38,429.00V431.40M543.88,429.00H548.88M543.88,431.40H548.88" stroke="#a3a3a3" stroke-width="1.4" fill="none"/>
<path d="M574.16,423.00V426.20M571.66,423.00H576.66M571.66,426.20H576.66" stroke="#a3a3a3" stroke-width="1.4" fill="none"/>
<path d="M601.94,414.00V423.00M599.44,414.00H604.44M599.44,423.00H604.44" stroke="#a3a3a3" stroke-width="1.4" fill="none"/>
<path d="M629.72,406.00V418.70M627.22,406.00H632.22M627.22,418.70H632.22" stroke="#a3a3a3" stroke-width="1.4" fill="none"/>
<path d="M657.50,398.20V415.40M655.00,398.20H660.00M655.00,415.40H660.00" stroke="#a3a3a3" stroke-width="1.4" fill="none"/>
<path d="M685.28,390.00V412.40M682.78,390.00H687.78M682.78,412.40H687.78" stroke="#a3a3a3" stroke-width="1.4" fill="none"/>
<path d="M407.48,465.20 L435.26,456.40 L463.04,449.30 L490.82,442.10 L518.60,435.70 L546.38,430.20 L574.16,424.60 L601.94,418.70 L629.72,412.40 L657.50,406.50 L685.28,401.30" stroke="#a3a3a3" stroke-width="1.2" fill="none"/>
<rect x="404.68" y="462.40" width="5.6" height="5.6" fill="#a3a3a3"/>
<rect x="432.46" y="453.60" width="5.6" height="5.6" fill="#a3a3a3"/>
<rect x="460.24" y="446.50" width="5.6" height="5.6" fill="#a3a3a3"/>
<rect x="488.02" y="439.30" width="5.6" height="5.6" fill="#a3a3a3"/>
<rect x="515.80" y="432.90" width="5.6" height="5.6" fill="#a3a3a3"/>
<rect x="543.58" y="427.40" width="5.6" height="5.6" fill="#a3a3a3"/>
<rect x="571.36" y="421.80" width="5.6" height="5.6" fill="#a3a3a3"/>
<rect x="599.14" y="415.90" width="5.6" height="5.6" fill="#a3a3a3"/>
<rect x="626.92" y="409.60" width="5.6" height="5.6" fill="#a3a3a3"/>
<rect x="654.70" y="403.70" width="5.6" height="5.6" fill="#a3a3a3"/>
<rect x="682.48" y="398.50" width="5.6" height="5.6" fill="#a3a3a3"/>
<path d="M407.48,499.30V541.70M404.98,499.30H409.98M404.98,541.70H409.98" stroke="#000" stroke-width="1.35" fill="none"/>
<path d="M435.26,494.50V528.30M432.76,494.50H437.76M432.76,528.30H437.76" stroke="#000" stroke-width="1.35" fill="none"/>
<path d="M463.04,477.40V502.10M460.54,477.40H465.54M460.54,502.10H465.54" stroke="#000" stroke-width="1.35" fill="none"/>
<path d="M490.82,455.70V471.40M488.32,455.70H493.32M488.32,471.40H493.32" stroke="#000" stroke-width="1.35" fill="none"/>
<path d="M518.60,433.80V442.00M516.10,433.80H521.10M516.10,442.00H521.10" stroke="#000" stroke-width="1.35" fill="none"/>
<path d="M546.38,417.00V420.80M543.88,417.00H548.88M543.88,420.80H548.88" stroke="#000" stroke-width="1.35" fill="none"/>
<path d="M574.16,399.00V407.60M571.66,399.00H576.66M571.66,407.60H576.66" stroke="#000" stroke-width="1.35" fill="none"/>
<path d="M601.94,382.50V397.00M599.44,382.50H604.44M599.44,397.00H604.44" stroke="#000" stroke-width="1.35" fill="none"/>
<path d="M629.72,368.40V388.00M627.22,368.40H632.22M627.22,388.00H632.22" stroke="#000" stroke-width="1.35" fill="none"/>
<path d="M657.50,357.00V380.60M655.00,357.00H660.00M655.00,380.60H660.00" stroke="#000" stroke-width="1.35" fill="none"/>
<path d="M685.28,343.00V373.00M682.78,343.00H687.78M682.78,373.00H687.78" stroke="#000" stroke-width="1.35" fill="none"/>
<path d="M407.48,520.70 L435.26,511.70 L463.04,489.80 L490.82,463.60 L518.60,438.60 L546.38,418.90 L574.16,403.00 L601.94,389.50 L629.72,378.70 L657.50,368.80 L685.28,358.20" stroke="#000" stroke-width="1.5" fill="none"/>
<rect x="404.68" y="517.90" width="5.6" height="5.6" fill="#000"/>
<rect x="432.46" y="508.90" width="5.6" height="5.6" fill="#000"/>
<rect x="460.24" y="487.00" width="5.6" height="5.6" fill="#000"/>
<rect x="488.02" y="460.80" width="5.6" height="5.6" fill="#000"/>
<rect x="515.80" y="435.80" width="5.6" height="5.6" fill="#000"/>
<rect x="543.58" y="416.10" width="5.6" height="5.6" fill="#000"/>
<rect x="571.36" y="400.20" width="5.6" height="5.6" fill="#000"/>
<rect x="599.14" y="386.70" width="5.6" height="5.6" fill="#000"/>
<rect x="626.92" y="375.90" width="5.6" height="5.6" fill="#000"/>
<rect x="654.70" y="366.00" width="5.6" height="5.6" fill="#000"/>
<rect x="682.48" y="355.40" width="5.6" height="5.6" fill="#000"/>
<text x="373.6" y="595.5" font-size="25" font-weight="bold" text-anchor="start" fill="#000" textLength="12.2" lengthAdjust="spacingAndGlyphs">F</text>
<path d="M461,580.8H475.4" stroke="#a0a0a0" stroke-width="1.4"/><circle cx="468.2" cy="580.8" r="2.8" fill="#a0a0a0"/>
<path d="M461,610.5H475.4" stroke="#1a9bb0" stroke-width="1.4"/><circle cx="468.2" cy="610.5" r="2.8" fill="#1a9bb0"/>
<text x="484.1" y="589.4" font-size="16.5">Cortex R<tspan font-size="11" dy="-7">2</tspan><tspan dy="7">=0.41</tspan></text>
<text x="484.1" y="619.2" font-size="16.5" textLength="29" lengthAdjust="spacingAndGlyphs">RTN</text>
<text x="531.2" y="619.2" font-size="16.5">R<tspan font-size="11" dy="-7">2</tspan><tspan dy="7">=0.76</tspan></text>
<path d="M599.9,580.5H609.1V611.9H599.9" stroke="#000" stroke-width="1.6" fill="none"/>
<path d="M618.00,594.50V600.70M615.32,596.05L620.68,599.15M615.32,599.15L620.68,596.05M626.30,594.50V600.70M623.62,596.05L628.98,599.15M623.62,599.15L628.98,596.05M634.60,594.50V600.70M631.92,596.05L637.28,599.15M631.92,599.15L637.28,596.05" stroke="#000" stroke-width="1.5" fill="none"/>
<path d="M457.3,634.3V766.5H676.4" stroke="#000" stroke-width="1.4" fill="none"/>
<path d="M452.1,634.30H457.3" stroke="#000" stroke-width="1.4"/>
<text x="450.7" y="640.19" font-size="16.5" font-weight="bold" text-anchor="end" fill="#000" >0</text>
<path d="M452.1,678.35H457.3" stroke="#000" stroke-width="1.4"/>
<text x="450.7" y="684.24" font-size="16.5" font-weight="bold" text-anchor="end" fill="#000" >-1</text>
<path d="M452.1,722.40H457.3" stroke="#000" stroke-width="1.4"/>
<text x="450.7" y="728.3" font-size="16.5" font-weight="bold" text-anchor="end" fill="#000" >-2</text>
<text x="450.7" y="772.34" font-size="16.5" font-weight="bold" text-anchor="end" fill="#000" >-3</text>
<path d="M676.00,766.5V772.0" stroke="#000" stroke-width="1.4"/>
<text x="675.5" y="788.5" font-size="16.5" font-weight="bold" text-anchor="middle" fill="#000" >0</text>
<path d="M632.20,766.5V772.0" stroke="#000" stroke-width="1.4"/>
<text x="631.7" y="788.5" font-size="16.5" font-weight="bold" text-anchor="middle" fill="#000" >-1</text>
<path d="M588.40,766.5V772.0" stroke="#000" stroke-width="1.4"/>
<text x="587.9" y="788.5" font-size="16.5" font-weight="bold" text-anchor="middle" fill="#000" >-2</text>
<path d="M544.60,766.5V772.0" stroke="#000" stroke-width="1.4"/>
<text x="544.1" y="788.5" font-size="16.5" font-weight="bold" text-anchor="middle" fill="#000" >-3</text>
<path d="M500.80,766.5V772.0" stroke="#000" stroke-width="1.4"/>
<text x="500.3" y="788.5" font-size="16.5" font-weight="bold" text-anchor="middle" fill="#000" >-4</text>
<text x="456.5" y="788.5" font-size="16.5" font-weight="bold" text-anchor="middle" fill="#000" >-5</text>
<path d="M475.5,700.5L665,637.4" stroke="#a0a0a0" stroke-width="1.4"/>
<path d="M585.4,710.5L674.5,636.5" stroke="#1a9bb0" stroke-width="1.6"/>
<circle cx="585.4" cy="710.5" r="2.7" fill="#1a9bb0"/>
<circle cx="643.9" cy="692.3" r="2.7" fill="#1a9bb0"/>
<circle cx="645.7" cy="672.4" r="2.7" fill="#1a9bb0"/>
<circle cx="632.5" cy="663.3" r="2.7" fill="#1a9bb0"/>
<circle cx="669.3" cy="659" r="2.7" fill="#1a9bb0"/>
<circle cx="637.2" cy="655.1" r="2.7" fill="#1a9bb0"/>
<circle cx="642.6" cy="655.4" r="2.7" fill="#1a9bb0"/>
<circle cx="646.6" cy="657.6" r="2.7" fill="#1a9bb0"/>
<circle cx="651.6" cy="655.4" r="2.7" fill="#1a9bb0"/>
<circle cx="650.9" cy="658.3" r="2.7" fill="#1a9bb0"/>
<circle cx="652" cy="658.1" r="2.7" fill="#1a9bb0"/>
<circle cx="648" cy="651.1" r="2.7" fill="#1a9bb0"/>
<circle cx="652.4" cy="648.9" r="2.7" fill="#1a9bb0"/>
<circle cx="653.8" cy="651.8" r="2.7" fill="#1a9bb0"/>
<circle cx="656" cy="651.1" r="2.7" fill="#1a9bb0"/>
<circle cx="660.3" cy="649.6" r="2.7" fill="#1a9bb0"/>
<circle cx="663.2" cy="646.8" r="2.7" fill="#1a9bb0"/>
<circle cx="658.1" cy="641.7" r="2.7" fill="#1a9bb0"/>
<circle cx="660.3" cy="643.5" r="2.7" fill="#1a9bb0"/>
<circle cx="663.9" cy="644.6" r="2.7" fill="#1a9bb0"/>
<circle cx="667.5" cy="643.9" r="2.7" fill="#1a9bb0"/>
<circle cx="670.4" cy="641.7" r="2.7" fill="#1a9bb0"/>
<circle cx="673.3" cy="638.8" r="2.7" fill="#1a9bb0"/>
<circle cx="661" cy="634.1" r="2.7" fill="#1a9bb0"/>
<circle cx="674" cy="635.6" r="2.7" fill="#1a9bb0"/>
<circle cx="675.5" cy="636.3" r="2.7" fill="#1a9bb0"/>
<circle cx="475.5" cy="678.6" r="2.7" fill="#a0a0a0"/>
<circle cx="551.4" cy="668.6" r="2.7" fill="#a0a0a0"/>
<circle cx="590.5" cy="671.2" r="2.7" fill="#a0a0a0"/>
<circle cx="614" cy="664.8" r="2.7" fill="#a0a0a0"/>
<circle cx="616" cy="665.5" r="2.7" fill="#a0a0a0"/>
<circle cx="585.6" cy="723.2" r="2.7" fill="#a0a0a0"/>
<circle cx="584.6" cy="723.2" r="2.7" fill="#a0a0a0"/>
<circle cx="640.8" cy="635.9" r="2.7" fill="#a0a0a0"/>
<circle cx="641.2" cy="638.8" r="2.7" fill="#a0a0a0"/>
<circle cx="634.3" cy="642.4" r="2.7" fill="#a0a0a0"/>
<circle cx="636.1" cy="642.8" r="2.7" fill="#a0a0a0"/>
<circle cx="642.6" cy="645.3" r="2.7" fill="#a0a0a0"/>
<circle cx="647.7" cy="647.8" r="2.7" fill="#a0a0a0"/>
<circle cx="650.6" cy="635.9" r="2.7" fill="#a0a0a0"/>
<circle cx="650.9" cy="638.1" r="2.7" fill="#a0a0a0"/>
<circle cx="653.8" cy="637" r="2.7" fill="#a0a0a0"/>
<circle cx="658.9" cy="635.9" r="2.7" fill="#a0a0a0"/>
<circle cx="661.7" cy="639.5" r="2.7" fill="#a0a0a0"/>
<circle cx="660.3" cy="640.6" r="2.7" fill="#a0a0a0"/>
<circle cx="663.9" cy="638.1" r="2.7" fill="#a0a0a0"/>
<circle cx="666" cy="637.5" r="2.7" fill="#a0a0a0"/>
<circle cx="669.3" cy="636.3" r="2.7" fill="#a0a0a0"/>
<circle cx="670.4" cy="637" r="2.7" fill="#a0a0a0"/>
<circle cx="662.5" cy="653.3" r="2.7" fill="#a0a0a0"/>
<circle cx="650.6" cy="667.6" r="2.7" fill="#a0a0a0"/>
<g transform="translate(477.8,812.5)" font-weight="bold"><text x="-1.2" y="0" font-size="18">I</text><text x="3.5" y="4.9" font-size="12.5" textLength="16.5" lengthAdjust="spacingAndGlyphs">Ba</text><text x="22.0" y="-4.3" font-size="9.5" textLength="10.4" lengthAdjust="spacingAndGlyphs">2+</text><text x="32.8" y="4.9" font-size="12.5">;</text><text x="37.4" y="0" font-size="18">V</text><text x="51.1" y="4.9" font-size="12.5">h</text><text x="59.2" y="0" font-size="17.8" textLength="118.6" lengthAdjust="spacingAndGlyphs">=-160mV (nA)</text></g>
<g transform="translate(423.7,792.7) rotate(-90)" font-weight="bold"><text x="-1.2" y="0" font-size="18">I</text><text x="3.5" y="4.3" font-size="13.8" textLength="37.7" lengthAdjust="spacingAndGlyphs">CO2/H</text><text x="43.1" y="-7" font-size="9.5" textLength="5.2" lengthAdjust="spacingAndGlyphs">+</text><text x="49.7" y="4.3" font-size="12.5">;</text><text x="53.5" y="0" font-size="18">V</text><text x="66.60" y="4.3" font-size="12.5">h</text><text x="75.0" y="0" font-size="17.8" textLength="118.6" lengthAdjust="spacingAndGlyphs">=-160mV (nA)</text></g>
</svg>
</body></html>
